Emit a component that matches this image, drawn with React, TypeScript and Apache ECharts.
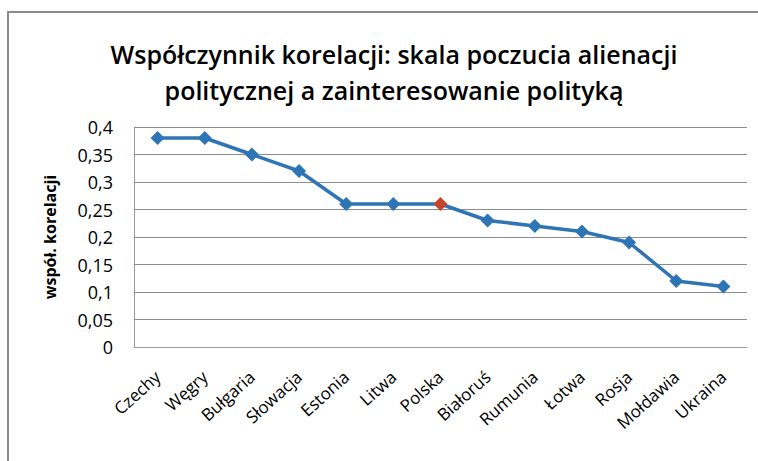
import React, { useEffect, useRef } from "react";
import * as echarts from "echarts";

const categories = ["Czechy", "Węgry", "Bułgaria", "Słowacja", "Estonia", "Litwa", "Polska", "Białoruś", "Rumunia", "Łotwa", "Rosja", "Mołdawia", "Ukraina"];
const values = [0.38, 0.38, 0.35, 0.32, 0.26, 0.26, 0.26, 0.23, 0.22, 0.21, 0.19, 0.12, 0.11];
const highlighted = "Polska";

const titleText = "Współczynnik korelacji: skala poczucia alienacji\npolitycznej a zainteresowanie polityką";
const yAxisName = "współ. korelacji";

const FONT = "'Open Sans', 'Noto Sans', sans-serif";

export default function App() {
  const ref = useRef<HTMLDivElement>(null);
  useEffect(() => {
    document.body.style.margin = "0";
    if (!ref.current) return;
    const chart = echarts.init(ref.current, null, { renderer: "svg" });
    chart.setOption({
      animation: false,
      backgroundColor: "#ffffff",
      title: {
        text: titleText,
        left: 389,
        textAlign: "center",
        top: 31,
        textStyle: {
          fontFamily: FONT,
          fontSize: 25,
          fontWeight: 600,
          color: "#000000",
          lineHeight: 36,
        },
      },
      graphic: [
        {
          type: "polyline",
          shape: { points: [[8, 470], [8, 12], [770, 12]] },
          style: { stroke: "#8a8a8a", lineWidth: 2, fill: null },
          silent: true,
        },
      ],
      grid: { left: 134, right: 11, top: 127, bottom: 114 },
      xAxis: {
        type: "category",
        data: categories,
        boundaryGap: true,
        axisLine: { show: true, lineStyle: { color: "#9a9a9a", width: 1 } },
        axisTick: { show: false },
        axisLabel: {
          interval: 0,
          rotate: 42,
          margin: 27,
          fontFamily: FONT,
          fontSize: 17,
          color: "#000000",
        },
      },
      yAxis: {
        type: "value",
        min: 0,
        max: 0.4,
        interval: 0.05,
        name: yAxisName,
        nameLocation: "middle",
        nameGap: 76,
        nameRotate: 90,
        nameTextStyle: {
          fontFamily: FONT,
          fontSize: 16,
          fontWeight: "bold",
          color: "#000000",
        },
        axisLine: { show: true, lineStyle: { color: "#9a9a9a", width: 1 } },
        axisTick: { show: false },
        splitLine: { show: true, lineStyle: { color: "#8c8c8c", width: 1 } },
        axisLabel: {
          margin: 21,
          fontFamily: FONT,
          fontSize: 18,
          color: "#000000",
          formatter: (v: number) => String(Math.round(v * 100) / 100).replace(".", ","),
        },
      },
      series: [
        {
          type: "line",
          data: values.map((v, i) => ({
            value: v,
            itemStyle: { color: categories[i] === highlighted ? "#C9432A" : "#2E75B6" },
          })),
          symbol: "diamond",
          symbolSize: 14,
          lineStyle: { color: "#2E75B6", width: 3.5 },
          itemStyle: { color: "#2E75B6" },
        },
      ],
    });
    return () => chart.dispose();
  }, []);
  return <div ref={ref} style={{ width: 758, height: 461 }} />;
}
